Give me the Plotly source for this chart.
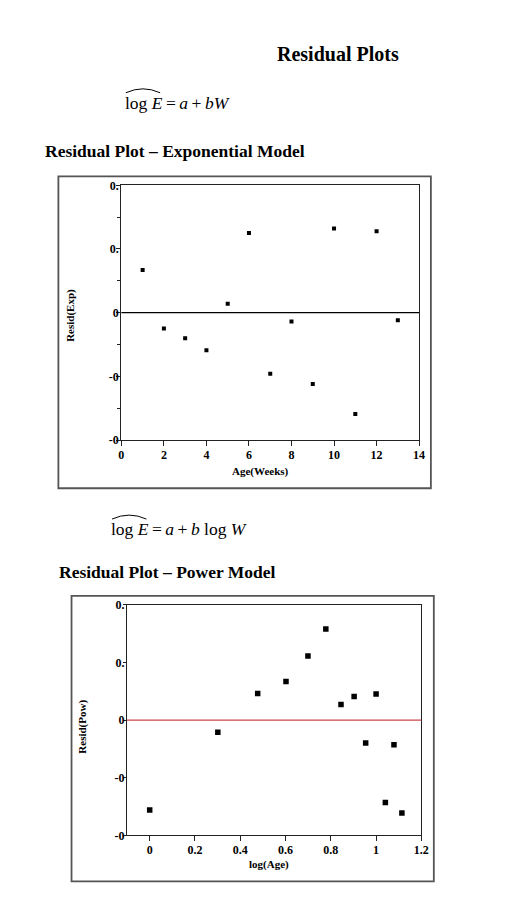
import plotly.graph_objects as go

# page size (the reference is a scanned slide)
W, H = 527, 903

# Exponential model: residuals vs age in weeks
age_weeks = [1, 2, 3, 4, 5, 6, 7, 8, 9, 10, 11, 12, 13]
resid_exp = [0.067, -0.025, -0.040, -0.059, 0.014, 0.125, -0.096, -0.014,
             -0.112, 0.132, -0.159, 0.128, -0.012]

# Power model: residuals vs log(age)
log_age = [0.0, 0.301, 0.477, 0.602, 0.699, 0.778, 0.845, 0.903, 0.954,
           1.0, 1.041, 1.079, 1.114]
resid_pow = [-0.156, -0.021, 0.046, 0.067, 0.111, 0.158, 0.027, 0.041,
             -0.040, 0.045, -0.143, -0.043, -0.161]

# tick labels (clipped in the original export)
y_tickvals = [-0.2, -0.1, 0, 0.1, 0.2]
y_ticktext_exp = ["-0", "-0", "0", "0.", "0."]
y_ticktext_pow = ["-0", "-0", "0", "0.", "0."]
x_tickvals_exp = [0, 2, 4, 6, 8, 10, 12, 14]
x_tickvals_pow = [0, 0.2, 0.4, 0.6, 0.8, 1, 1.2]
x_ticktext_pow = ["0", "0.2", "0.4", "0.6", "0.8", "1", "1.2"]


def px(x):
    return x / W


def py(y):
    return 1 - y / H


SERIF = "Liberation Serif"
tickfont = dict(family=SERIF, size=12, color="black", weight="bold")

fig = go.Figure()

fig.add_trace(go.Scatter(
    x=age_weeks, y=resid_exp, mode="markers",
    marker=dict(symbol="square", size=4, color="black"),
    xaxis="x", yaxis="y", showlegend=False,
))
fig.add_trace(go.Scatter(
    x=log_age, y=resid_pow, mode="markers",
    marker=dict(symbol="square", size=5.5, color="black"),
    xaxis="x2", yaxis="y2", showlegend=False,
))

axis_common = dict(
    showgrid=False, zeroline=False, showline=True, linecolor="#222",
    linewidth=1.2, mirror=True, ticks="outside", tickcolor="#222",
    tickfont=tickfont, fixedrange=True,
)

fig.update_layout(
    width=W, height=H,
    margin=dict(l=0, r=0, t=0, b=0),
    paper_bgcolor="white", plot_bgcolor="white",
    xaxis=dict(domain=[px(112.5), px(416)], anchor="y", range=[0, 14],
               tickvals=x_tickvals_exp, ticklen=5, ticklabelstandoff=-2,
               **axis_common),
    yaxis=dict(domain=[py(431.7), py(173)], anchor="x", range=[-0.2, 0.2],
               tickvals=y_tickvals, ticktext=y_ticktext_exp, ticklen=4,
               ticklabelstandoff=-5,
               minor=dict(dtick=0.05, tick0=0, ticks="outside", ticklen=3,
                          tickcolor="#222"),
               **axis_common),
    xaxis2=dict(domain=[px(118.3), px(418.3)], anchor="y2", range=[-0.1, 1.2],
                tickvals=x_tickvals_pow, ticktext=x_ticktext_pow, ticklen=5,
                ticklabelstandoff=-2, **axis_common),
    yaxis2=dict(domain=[py(833.3), py(599)], anchor="x2", range=[-0.2, 0.2],
                tickvals=y_tickvals, ticktext=y_ticktext_pow, ticklen=3,
                ticklabelstandoff=-4, **axis_common),
)

# zero reference lines
fig.add_shape(type="line", xref="x domain", yref="y", x0=0, x1=1, y0=0, y1=0,
              line=dict(color="black", width=1.2))
fig.add_shape(type="line", xref="x2 domain", yref="y2", x0=0, x1=1, y0=0, y1=0,
              line=dict(color="#c8464b", width=1.2))

# outer frames around each chart
for x0, y0, x1, y1 in [(48.3, 164, 428, 480.7), (61.7, 590, 431, 880)]:
    fig.add_shape(type="rect", xref="paper", yref="paper",
                  x0=px(x0), x1=px(x1), y0=py(y1), y1=py(y0),
                  line=dict(color="#555", width=1.8))

# hats over "log E"
for xa, xb, yb, yt in [(117, 152, 79, 74), (103, 138, 512, 507)]:
    xm = (xa + xb) / 2
    fig.add_shape(type="path", xref="paper", yref="paper",
                  path=f"M {px(xa)},{py(yb)} Q {px(xm)},{py(yt - 3)} {px(xb)},{py(yb)}",
                  line=dict(color="black", width=1))

texts = [
    ("Residual Plots", 333.5, 39.5, 20, True, "center"),
    ("Residual Plot – Exponential Model", 33, 138, 17.5, True, "left"),
    ("Residual Plot – Power Model", 46.7, 566, 17.5, True, "left"),
]
for t, x, y, s, b, al in texts:
    fig.add_annotation(text=t, x=px(x), y=py(y), xref="paper", yref="paper",
                       xanchor=al, yanchor="middle", showarrow=False,
                       font=dict(family=SERIF, size=s, color="black",
                                 weight="bold" if b else "normal"))

eqs = [
    ("log <i>E</i>\u2009=\u2009<i>a</i>\u2009+\u2009<i>bW</i>", 114, 89),
    ("log <i>E</i>\u2009=\u2009<i>a</i>\u2009+\u2009<i>b</i> log <i>W</i>", 100, 522),
]
for t, x, y in eqs:
    fig.add_annotation(text=t, x=px(x), y=py(y), xref="paper", yref="paper",
                       xanchor="left", yanchor="middle", showarrow=False,
                       font=dict(family=SERIF, size=17.5, color="black"))

# axis titles
titles = [
    ("Age(Weeks)", 254.5, 464, 0),
    ("Resid(Exp)", 60.7, 305, -90),
    ("log(Age)", 262.5, 863.3, 0),
    ("Resid(Pow)", 73.3, 723, -90),
]
for t, x, y, ang in titles:
    fig.add_annotation(text=t, x=px(x), y=py(y), xref="paper", yref="paper",
                       xanchor="center", yanchor="middle", showarrow=False,
                       textangle=ang,
                       font=dict(family=SERIF, size=11, color="black",
                                 weight="bold"))

fig.write_html("out.html")
